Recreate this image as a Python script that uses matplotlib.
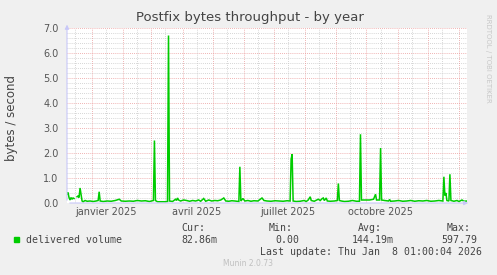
import datetime as dt
import matplotlib
matplotlib.use("Agg")
import matplotlib.pyplot as plt
import numpy as np

# data: days after 2024-12-07, value in bytes/second
nan = float("nan")
days = [0, 1, 2, 3, 4, 5, 6, 7, 8, 9, 10, 11, 12, 13, 14, 15, 16, 18, 20, 23,
        26, 29, 31, 32, 33, 36, 40, 44, 48, 52, 54, 58, 62, 66, 70, 74, 78, 82, 86, 87,
        88, 90, 94, 98, 100, 101, 102, 105, 108, 109, 110, 111, 113, 116, 119, 122, 125, 128, 131, 133,
        136, 138, 141, 144, 147, 150, 153, 156, 158, 161, 164, 167, 171, 172, 173, 175, 177, 180, 183, 186,
        190, 194, 195, 196, 199, 203, 207, 211, 215, 219, 222, 223, 224, 225, 228, 232, 236, 238, 240, 242,
        243, 246, 250, 252, 254, 255, 256, 258, 259, 262, 266, 269, 270, 271, 273, 276, 280, 284, 288, 291,
        292, 293, 297, 301, 305, 307, 308, 311, 312, 313, 316, 320, 321, 322, 326, 330, 334, 338, 342, 346,
        350, 354, 358, 362, 366, 370, 374, 375, 376, 377, 378, 380, 381, 382, 385, 388, 390, 393, 395, 398]
values = [0.35, 0.42, 0.22, 0.12, 0.22, 0.15, 0.20, 0.18, nan, nan, 0.25, 0.28, 0.22, 0.60, 0.35, 0.08, 0.05, 0.10, 0.07, 0.08,
          0.06, 0.08, 0.10, 0.45, 0.08, 0.06, 0.08, 0.07, 0.10, 0.15, 0.08, 0.07, 0.08, 0.07, 0.10, 0.08, 0.09, 0.06, 0.10, 2.50,
          0.10, 0.05, 0.05, 0.05, 0.06, 6.70, 0.08, 0.06, 0.15, 0.10, 0.20, 0.12, 0.08, 0.12, 0.10, 0.07, 0.10, 0.08, 0.12, 0.07,
          0.18, 0.07, 0.12, 0.08, 0.10, 0.09, 0.12, 0.20, 0.08, 0.07, 0.09, 0.08, 0.06, 1.45, 0.08, 0.18, 0.08, 0.10, 0.07, 0.09,
          0.08, 0.20, 0.15, 0.10, 0.08, 0.07, 0.09, 0.08, 0.07, 0.09, 0.08, 1.75, 1.95, 0.08, 0.06, 0.07, 0.10, 0.06, 0.12, 0.25,
          0.10, 0.07, 0.15, 0.10, 0.18, 0.20, 0.10, 0.20, 0.08, 0.07, 0.08, 0.10, 0.78, 0.10, 0.08, 0.06, 0.07, 0.10, 0.07, 0.07,
          2.75, 0.12, 0.12, 0.12, 0.15, 0.35, 0.12, 0.12, 2.20, 0.12, 0.10, 0.08, 0.14, 0.07, 0.08, 0.10, 0.07, 0.08, 0.10, 0.07,
          0.09, 0.08, 0.10, 0.07, 0.08, 0.10, 0.08, 1.05, 0.30, 0.40, 0.10, 0.08, 1.15, 0.10, 0.07, 0.10, 0.06, 0.12, 0.07, 0.08]

month_labels = ["janvier 2025", "avril 2025", "juillet 2025", "octobre 2025"]
label_months = [(2025, 1), (2025, 4), (2025, 7), (2025, 10)]
ytick_labels = ["0.0", "1.0", "2.0", "3.0", "4.0", "5.0", "6.0", "7.0"]

stat_names = ["Cur:", "Min:", "Avg:", "Max:"]
stat_values = ["82.86m", "0.00", "144.19m", "597.79"]

start = dt.datetime(2024, 12, 7)
end = dt.datetime(2026, 1, 9)
dates = [start + dt.timedelta(days=d) for d in days]

W, H = 497, 275
fig = plt.figure(figsize=(W / 100, H / 100), dpi=100)
fig.patch.set_facecolor("#f0f0f0")

def fx(px):
    return px / W

def fy(py):
    return 1 - py / H

ax = fig.add_axes([fx(67), fy(203), 400 / W, 175 / H])
ax.set_facecolor("white")
for s in ax.spines.values():
    s.set_visible(False)

ax.set_xlim(start, end)
ax.set_ylim(0, 7)

# grille
major_col = "#eb9a9a"
minor_col = "#c8c8c8"
dots = (0, (1, 1.5))
for v in np.arange(0, 7.01, 0.2):
    if abs(v - round(v)) < 1e-6:
        continue
    ax.axhline(v, color=minor_col, lw=0.6, ls=dots, zorder=1)
for v in range(1, 8):
    ax.axhline(v, color=major_col, lw=0.6, ls=dots, zorder=1)

m = dt.datetime(2024, 12, 1)
while m < end:
    mid = m + dt.timedelta(days=14)
    if start < mid < end:
        ax.axvline(mid, color=minor_col, lw=0.6, ls=dots, zorder=1)
    if start < m < end:
        ax.axvline(m, color=major_col, lw=0.6, ls=dots, zorder=1)
    m = dt.datetime(m.year + (m.month // 12), m.month % 12 + 1, 1)

ax.plot(dates, values, color="#00cc00", lw=1.1, zorder=3, solid_joinstyle="miter")

ax.set_yticks(range(8))
ax.set_yticklabels(ytick_labels, fontsize=7, color="#555555")
ax.tick_params(axis="y", length=0, pad=6)
ax.set_xticks([])
for (yy, mm), lab in zip(label_months, month_labels):
    ax.text(dt.datetime(yy, mm, 15), -0.35, lab, ha="center", va="center",
            fontsize=7, color="#555555", clip_on=False)

# fleches des axes
acol = "#c8c8f8"
ax.annotate("", xy=(1.01, 0), xytext=(0, 0), xycoords="axes fraction",
            arrowprops=dict(arrowstyle="-|>", color=acol, lw=0.8, mutation_scale=6))
ax.annotate("", xy=(0, 1.035), xytext=(0, 0), xycoords="axes fraction",
            arrowprops=dict(arrowstyle="-|>", color=acol, lw=0.8, mutation_scale=6))

fig.text(fx(250), fy(18), "Postfix bytes throughput - by year", ha="center", va="center",
         fontsize=9.5, color="#444444")
fig.text(fx(12), fy(118), "bytes / second", rotation=90, ha="center", va="center",
         fontsize=8.5, color="#444444")
fig.text(fx(488), fy(58), "RRDTOOL / TOBI OETIKER", rotation=270, ha="center", va="center",
         fontsize=5, color="#c8c8c8")

mono = "DejaVu Sans Mono"
tcol = "#444444"
fig.patches.append(plt.Rectangle((fx(14), fy(242)), 5 / W, 5 / H, transform=fig.transFigure,
                                 color="#00cc00"))
fig.text(fx(26), fy(240), "delivered volume", family=mono, fontsize=7.1, color=tcol, va="center")
name_x = [181, 269, 358, 447]
val_right = [217, 299, 394, 477]
for nx, nm in zip(name_x, stat_names):
    fig.text(fx(nx), fy(228), nm, family=mono, fontsize=7.1, color=tcol, va="center")
for vx, vl in zip(val_right, stat_values):
    fig.text(fx(vx), fy(240), vl, family=mono, fontsize=7.1, color=tcol, va="center", ha="right")
fig.text(fx(482), fy(252), "Last update: Thu Jan  8 01:00:04 2026", family=mono, fontsize=7.1,
         color=tcol, va="center", ha="right")
fig.text(fx(248), fy(263), "Munin 2.0.73", ha="center", va="center", fontsize=5.5, color="#c0c0c0")

fig.savefig("out.png", dpi=100, facecolor=fig.get_facecolor())
